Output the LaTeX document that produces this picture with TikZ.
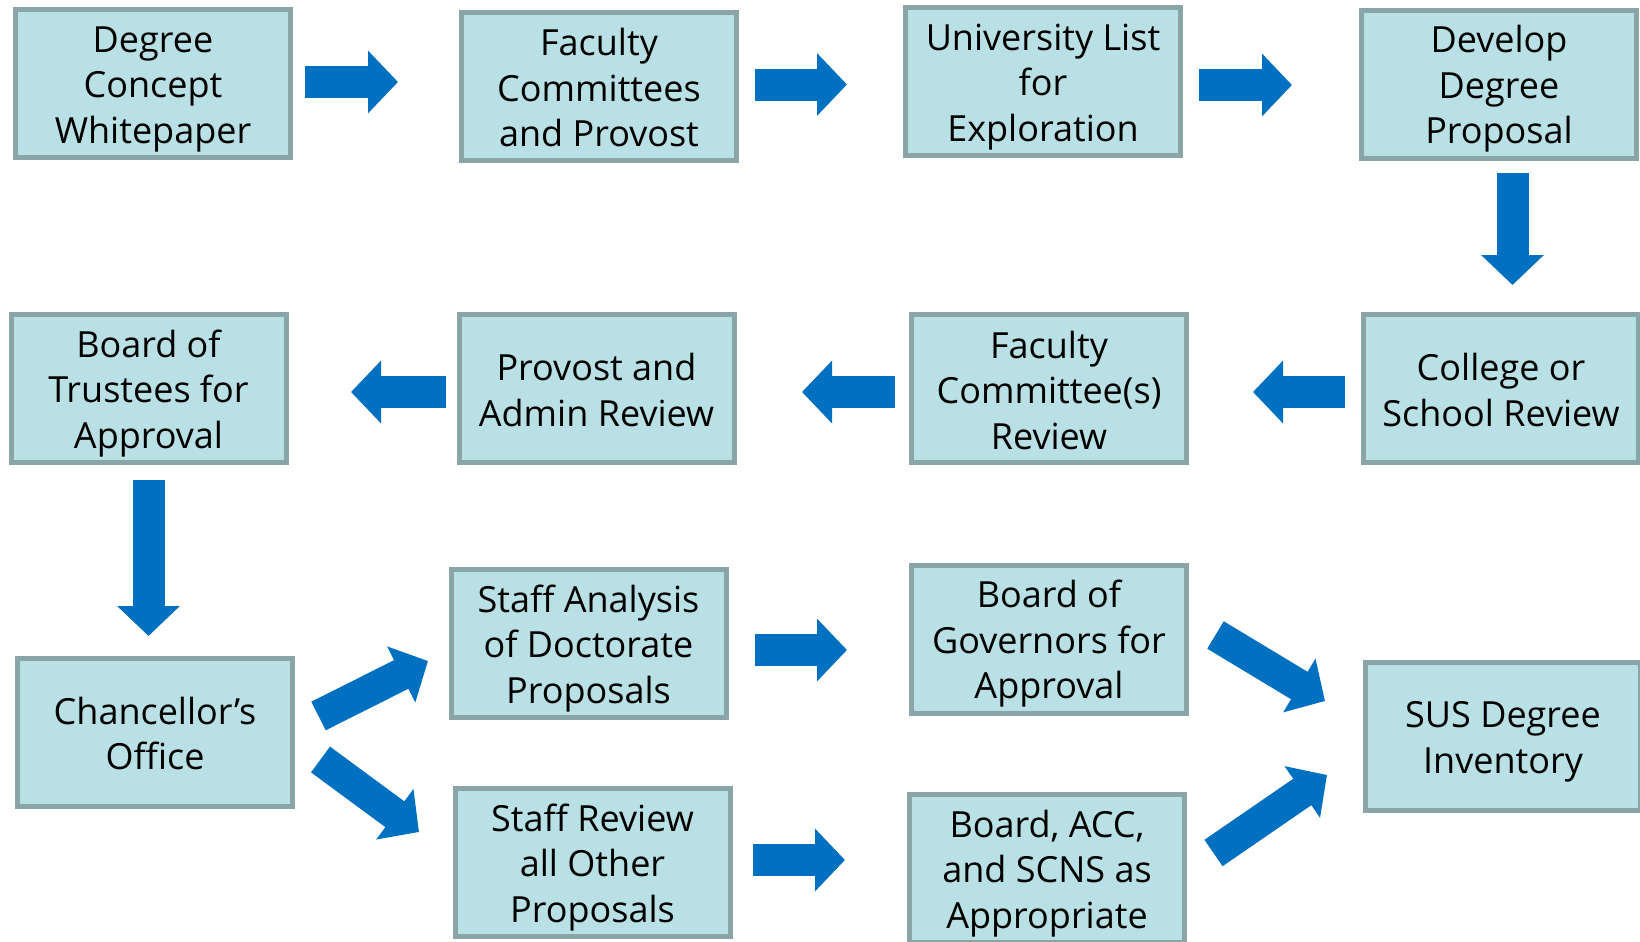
\documentclass[tikz,border=0pt]{standalone}
\usepackage{fontspec}
\setmainfont{Open Sans}
\usetikzlibrary{arrows.meta}
\definecolor{boxfill}{RGB}{185,224,228}
\definecolor{boxline}{RGB}{138,165,168}
\definecolor{arrblue}{RGB}{0,112,192}
\newcommand\topstrut{\rule{0pt}{18.5pt}}
\newcommand\botstrut{\rule[-3.5pt]{0pt}{3.5pt}}
\begin{document}
\begin{tikzpicture}[x=0.5pt,y=-0.5pt,
  box/.style={draw=boxline, fill=boxfill, line width=2.5pt, minimum width=137.5pt, minimum height=74pt,
    align=center, inner sep=0pt, font=\fontsize{18}{22.75}\selectfont, text=black},
  bigarrow/.style={draw=arrblue, line width=16pt, -{Triangle[length=15pt,width=30.5pt]}}]
\useasboundingbox (0,0) rectangle (1640,942);
% row 1
\node[box] (b1) at (153,83.5) {\topstrut Degree\\Concept\\Whitepaper\botstrut};
\node[box] (b2) at (599,86) {\topstrut Faculty\\Committees\\and Provost\botstrut};
\node[box] (b3) at (1043,81.5) {\topstrut University List\\for\\Exploration\botstrut};
\node[box] (b4) at (1499,84) {\topstrut Develop\\Degree\\Proposal\botstrut};
% row 2
\node[box] (b5) at (148.5,388.5) {\topstrut Board of\\Trustees for\\Approval\botstrut};
\node[box] (b6) at (596.5,388.5) {\topstrut Provost and\\Admin Review\botstrut};
\node[box] (b7) at (1049,388.5) {\topstrut Faculty\\Committee(s)\\Review\botstrut};
\node[box] (b8) at (1501,388.5) {\topstrut College or\\School Review\botstrut};
% row 3
\node[box] (b9) at (155,732) {\topstrut Chancellor’s\\Office\botstrut};
\node[box] (b10) at (588.5,643.5) {\topstrut Staff Analysis\\of Doctorate\\Proposals\botstrut};
\node[box] (b11) at (1049,639) {\topstrut Board of\\Governors for\\Approval\botstrut};
\node[box] (b12) at (592.5,862.5) {\topstrut Staff Review\\all Other\\Proposals\botstrut};
\node[box] (b13) at (1047,868.5) {\topstrut Board, ACC,\\and SCNS as\\Appropriate\botstrut};
\node[box] (b14) at (1503,736.5) {\topstrut SUS Degree\\Inventory\botstrut};
% arrow end points
\coordinate (a1s) at (305,82);   \coordinate (a1e) at (398,82);
\coordinate (a2s) at (755,84.5); \coordinate (a2e) at (847,84.5);
\coordinate (a3s) at (1199,85);  \coordinate (a3e) at (1292,85);
\coordinate (a4s) at (1512.5,173); \coordinate (a4e) at (1512.5,285);
\coordinate (a5s) at (1345,392); \coordinate (a5e) at (1253,392);
\coordinate (a6s) at (895,392);  \coordinate (a6e) at (802,392);
\coordinate (a7s) at (446,392);  \coordinate (a7e) at (351,392);
\coordinate (a8s) at (148.5,480); \coordinate (a8e) at (148.5,636);
\coordinate (a9s) at (318.5,716); \coordinate (a9e) at (428,661);
\coordinate (a10s) at (320.5,759.5); \coordinate (a10e) at (419,832);
\coordinate (a11s) at (755,650); \coordinate (a11e) at (847,650);
\coordinate (a12s) at (753,860); \coordinate (a12e) at (845,860);
\coordinate (a13s) at (1215.5,635); \coordinate (a13e) at (1325,701);
\coordinate (a14s) at (1213.5,853); \coordinate (a14e) at (1327,775);
\foreach \i in {1,...,14}{\draw[bigarrow] (a\i s) -- (a\i e);}
\end{tikzpicture}
\end{document}
